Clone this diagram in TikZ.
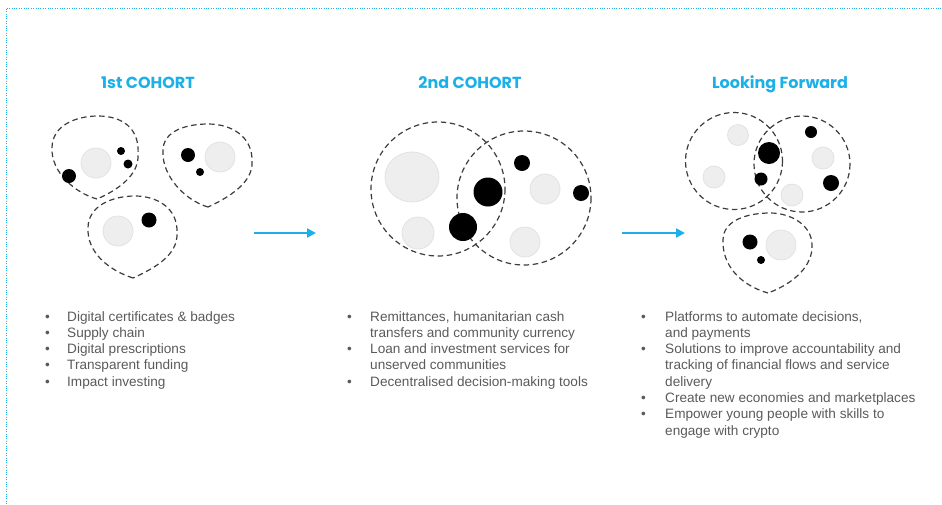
\documentclass[tikz,border=0pt]{standalone}
\usepackage{fontspec}
\setmainfont{Liberation Sans}
\newfontfamily\titlefont{Poppins}
\usetikzlibrary{arrows.meta}
\definecolor{cyanish}{HTML}{1CB0E8}
\definecolor{txtgray}{HTML}{5A5A5A}
\definecolor{dashgray}{HTML}{3C3C3C}
\definecolor{ballgray}{HTML}{EEEEEE}
\definecolor{balledge}{HTML}{E2E2E2}
\tikzset{
  blob/.style={draw=dashgray,line width=1.2pt,dash pattern=on 5.5pt off 3.6pt},
  grayball/.style={fill=ballgray,draw=balledge,line width=0.8pt},
  blackball/.style={fill=black},
  title/.style={font=\titlefont\bfseries\fontsize{16}{19}\selectfont,text=cyanish,anchor=base,inner sep=0pt},
  bul/.style={font=\fontsize{13.6}{16.3}\selectfont,text=txtgray,anchor=base west,inner sep=0pt},
  flow/.style={draw=cyanish,line width=2.6pt,-{Triangle[length=9pt,width=9pt]}},
}
\begin{document}
\begin{tikzpicture}[x=1pt,y=-1pt]
\useasboundingbox (0,0) rectangle (942,504);
% border
\draw[cyanish,line width=0.8pt,dash pattern=on 0.8pt off 1.6pt] (6,504) -- (6,8) -- (942,8);
% titles
\node[title] (t1) at (148,88) {1st COHORT};
\node[title] (t2) at (470,88) {2nd COHORT};
\node[title] (t3) at (780,88) {Looking Forward};
% column 1 blobs
\draw[blob] (97,199) .. controls (75,193) and (51,172) .. (52,148)
  .. controls (52,126) and (75,116) .. (98,116)
  .. controls (122,116) and (140,128) .. (138,155)
  .. controls (139,175) and (118,190) .. cycle;
\draw[blob] (208,207) .. controls (184,200) and (162,175) .. (163,152)
  .. controls (162,130) and (188,124) .. (208,124)
  .. controls (232,124) and (253,137) .. (252,162)
  .. controls (253,182) and (230,197) .. cycle;
\draw[blob] (133,278) .. controls (108,270) and (87,252) .. (88,228)
  .. controls (88,206) and (112,196) .. (135,196)
  .. controls (157,196) and (178,208) .. (177,233)
  .. controls (178,255) and (155,268) .. cycle;
\draw[grayball] (96,163) circle (15);
\fill[blackball] (69,176) circle (7);
\fill[blackball] (121,151) circle (4);
\fill[blackball] (128,164) circle (4.5);
\draw[grayball] (220,157) circle (15);
\fill[blackball] (188,155) circle (7);
\fill[blackball] (200,172) circle (4);
\draw[grayball] (118,231) circle (15);
\fill[blackball] (149,220) circle (7.5);
% arrow 1
\coordinate (a1s) at (254,233);
\coordinate (a1e) at (316,233);
\draw[flow] (a1s) -- (a1e);
% column 2
\draw[blob] (438,189) circle (67);
\draw[blob] (524,198) circle (67);
\draw[grayball] (412,177) ellipse (27 and 25);
\draw[grayball] (418,233) circle (16);
\draw[grayball] (545,189) circle (15);
\draw[grayball] (525,242) circle (15);
\fill[blackball] (488,192) circle (14.5);
\fill[blackball] (463,227) circle (14);
\fill[blackball] (522,163) circle (8);
\fill[blackball] (581,193) circle (8);
% arrow 2
\coordinate (a2s) at (622,233);
\coordinate (a2e) at (685,233);
\draw[flow] (a2s) -- (a2e);
% column 3
\draw[blob] (734,161) circle (48.5);
\draw[blob] (802,164) circle (48);
\draw[blob] (768,293) .. controls (740,285) and (722,265) .. (723,240)
  .. controls (723,220) and (748,213) .. (770,213)
  .. controls (792,213) and (812,226) .. (812,245)
  .. controls (813,265) and (795,283) .. cycle;
\draw[grayball] (738,135) circle (10.5);
\draw[grayball] (714,177) circle (11);
\draw[grayball] (823,158) circle (11);
\draw[grayball] (792,195) circle (11);
\fill[blackball] (769,153) circle (11);
\fill[blackball] (761,179) circle (6.5);
\fill[blackball] (811,132) circle (6);
\fill[blackball] (831,183) circle (8);
\draw[grayball] (781,245) circle (15);
\fill[blackball] (750,242) circle (7.5);
\fill[blackball] (761,260) circle (4);
% column 1 text
\foreach \y/\t [count=\i] in {321/Digital certificates \& badges, 337.3/Supply chain, 353.6/Digital prescriptions, 369.9/Transparent funding, 386.2/Impact investing}{
  \node[bul] (b1\i) at (45,\y) {•};
  \node[bul] (l1\i) at (67,\y) {\t};
}
% column 2 text
\node[bul] (b21) at (347,321) {•};
\node[bul] (l21) at (370,321) {Remittances, humanitarian cash};
\node[bul] (l21b) at (370,337.3) {transfers and community currency};
\node[bul] (b22) at (347,353.6) {•};
\node[bul] (l22) at (370,353.6) {Loan and investment services for};
\node[bul] (l22b) at (370,369.9) {unserved communities};
\node[bul] (b23) at (347,386.2) {•};
\node[bul] (l23) at (370,386.2) {Decentralised decision-making tools};
% column 3 text
\node[bul] (b31) at (641,321) {•};
\node[bul] (l31) at (665,321) {Platforms to automate decisions,};
\node[bul] (l31b) at (665,337.3) {and payments};
\node[bul] (b32) at (641,353.6) {•};
\node[bul] (l32) at (665,353.6) {Solutions to improve accountability and};
\node[bul] (l32b) at (665,369.9) {tracking of financial flows and service};
\node[bul] (l32c) at (665,386.2) {delivery};
\node[bul] (b33) at (641,402.5) {•};
\node[bul] (l33) at (665,402.5) {Create new economies and marketplaces};
\node[bul] (b34) at (641,418.8) {•};
\node[bul] (l34) at (665,418.8) {Empower young people with skills to};
\node[bul] (l34b) at (665,435.1) {engage with crypto};
\end{tikzpicture}
\end{document}
